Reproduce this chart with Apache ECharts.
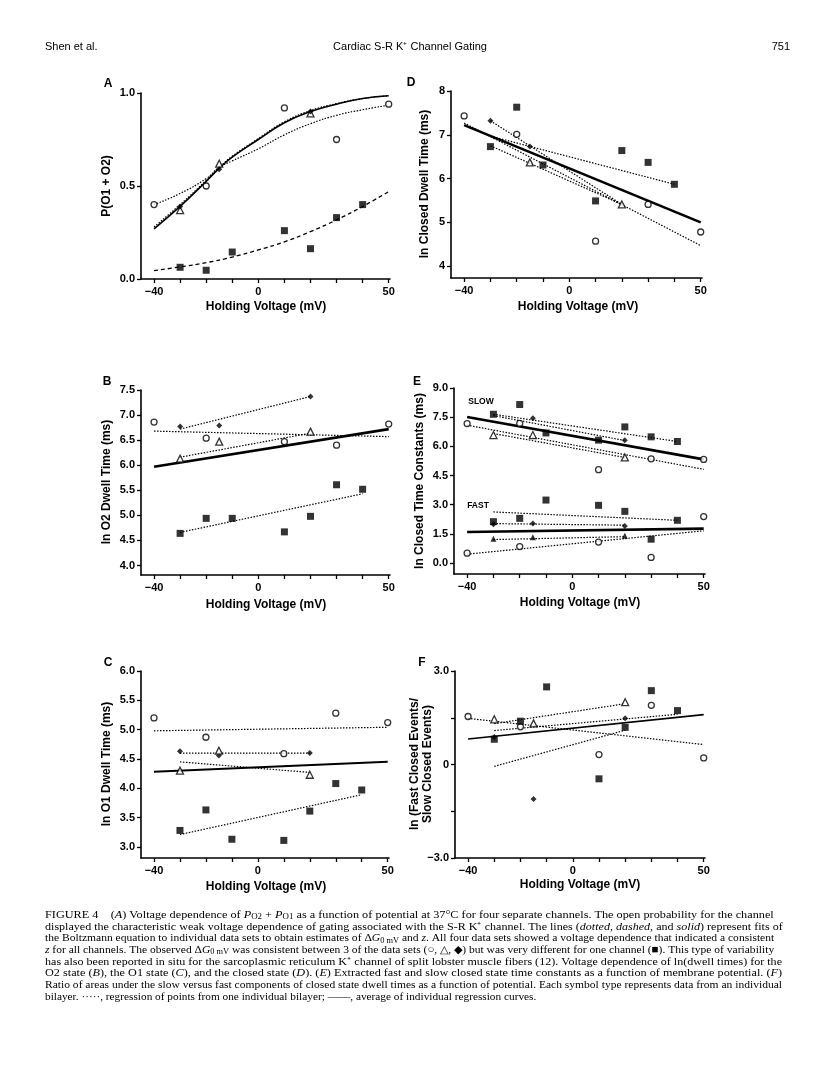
<!DOCTYPE html>
<html><head><meta charset="utf-8">
<script src="https://cdn.jsdelivr.net/npm/echarts@6/dist/echarts.min.js"></script>
<style>html,body{margin:0;padding:0;background:#fff}#c{width:816px;height:1065px}</style>
</head><body><div id="c"></div>
<script>
// ---------- shared axis ticks ----------
const xTickVals = [-40,-30,-20,-10,0,10,20,30,40,50];
const xLabelVals = [-40,0,50];

// ---------- Panel A : P(O1 + O2) ----------
const aCircle   = [[-40,0.40],[-20,0.50],[10,0.92],[30,0.75],[50,0.94]];
const aTriangle = [[-30,0.37],[-15,0.62],[20,0.89]];
const aDiamond  = [[-30,0.39],[-15,0.59],[20,0.90]];
const aSquare   = [[-30,0.063],[-20,0.047],[-10,0.145],[10,0.26],[20,0.163],[30,0.33],[40,0.40]];
const aFitSolid = [[-40,0.27],[-30,0.39],[-20,0.525],[-15,0.595],[-10,0.655],[0,0.75],[10,0.84],[20,0.90],[30,0.94],[40,0.97],[50,0.985]];
const aFitDot2  = [[-40,0.28],[-30,0.40],[-20,0.53],[-15,0.60],[-10,0.66],[0,0.755],[10,0.845],[20,0.905],[30,0.943],[40,0.97],[50,0.985]];
const aFitCircle= [[-40,0.40],[-30,0.46],[-20,0.54],[-15,0.60],[-10,0.635],[0,0.70],[10,0.775],[20,0.835],[30,0.88],[40,0.91],[50,0.935]];
const aFitSquare= [[-40,0.045],[-30,0.065],[-20,0.088],[-10,0.118],[0,0.156],[10,0.20],[20,0.255],[30,0.318],[40,0.39],[50,0.47]];

// ---------- Panel D : ln Closed Dwell Time ----------
const dCircle   = [[-40,7.43],[-20,7.01],[10,4.57],[30,5.41],[50,4.78]];
const dDiamond  = [[-30,7.32],[-15,6.73]];
const dTriangle = [[-15,6.37],[20,5.41]];
const dSquare   = [[-30,6.73],[-20,7.63],[-10,6.31],[10,5.49],[20,6.64],[30,6.37],[40,5.87]];
const dLineCircle  = [[-40,7.27],[50,4.47]];
const dLineDiamond = [[-30,7.32],[20,5.41]];
const dLineTri     = [[-30,6.75],[20,5.41]];
const dLineSquare  = [[-30,6.97],[40,5.87]];
const dSolid       = [[-40,7.22],[50,5.0]];

// ---------- Panel B : ln O2 Dwell Time ----------
const bCircle   = [[-40,6.86],[-20,6.54],[10,6.47],[30,6.40],[50,6.82]];
const bDiamond  = [[-30,6.77],[-15,6.79],[20,7.37]];
const bTriangle = [[-30,6.13],[-15,6.47],[20,6.67]];
const bSquare   = [[-30,4.64],[-20,4.94],[-10,4.94],[10,4.67],[20,4.98],[30,5.61],[40,5.52]];
const bLineDiamond = [[-30,6.72],[20,7.37]];
const bLineCircle  = [[-40,6.68],[50,6.57]];
const bLineTri     = [[-30,6.16],[20,6.64]];
const bLineSquare  = [[-30,4.66],[40,5.43]];
const bSolid       = [[-40,5.97],[50,6.72]];

// ---------- Panel E : ln Closed Time Constants ----------
const eSlowCircle   = [[-40,7.17],[-20,7.18],[10,4.80],[30,5.36],[50,5.33]];
const eSlowSquare   = [[-30,7.65],[-20,8.15],[-10,6.69],[10,6.32],[20,7.0],[30,6.49],[40,6.25]];
const eSlowDiamond  = [[-15,7.45],[20,6.32]];
const eSlowTriangle = [[-30,6.58],[-15,6.58],[20,5.43]];
const eSlowLineSq   = [[-30,7.65],[40,6.25]];
const eSlowLineDia  = [[-30,7.58],[20,6.30]];
const eSlowLineTri  = [[-30,6.66],[20,5.43]];
const eSlowLineCir  = [[-40,7.09],[50,4.82]];
const eSlowSolid    = [[-40,7.51],[50,5.33]];
const eFastSquare   = [[-30,2.13],[-20,2.3],[-10,3.24],[10,2.97],[20,2.66],[30,1.23],[40,2.2]];
const eFastDiamond  = [[-30,2.0],[-15,2.03],[20,1.91]];
const eFastTriangle = [[-30,1.25],[-15,1.33],[20,1.40]];
const eFastCircle   = [[-40,0.51],[-20,0.85],[10,1.08],[30,0.29],[50,2.39]];
const eFastLineSq   = [[-30,2.63],[40,2.2]];
const eFastLineDia  = [[-30,2.03],[20,1.95]];
const eFastLineTri  = [[-30,1.21],[20,1.36]];
const eFastLineCir  = [[-40,0.46],[50,1.66]];
const eFastSolid    = [[-40,1.6],[50,1.77]];

// ---------- Panel C : ln O1 Dwell Time ----------
const cCircle   = [[-40,5.20],[-20,4.87],[10,4.59],[30,5.28],[50,5.12]];
const cDiamond  = [[-30,4.63],[-15,4.56],[20,4.60]];
const cTriangle = [[-30,4.30],[-15,4.64],[20,4.23]];
const cSquare   = [[-30,3.28],[-20,3.63],[-10,3.13],[10,3.11],[20,3.61],[30,4.08],[40,3.97]];
const cLineCircle  = [[-40,4.98],[50,5.04]];
const cLineDiamond = [[-30,4.60],[20,4.60]];
const cLineTri     = [[-30,4.45],[20,4.27]];
const cLineSquare  = [[-30,3.21],[40,3.89]];
const cSolid       = [[-40,4.28],[50,4.45]];

// ---------- Panel F : ln (Fast/Slow Closed Events) ----------
const fCircle   = [[-40,1.54],[-20,1.21],[10,0.32],[30,1.90],[50,0.21]];
const fSquare   = [[-30,0.81],[-20,1.39],[-10,2.49],[10,-0.46],[20,1.19],[30,2.37],[40,1.73]];
const fDiamond  = [[-30,0.88],[-15,-1.11],[20,1.48]];
const fTriangle = [[-30,1.45],[-15,1.32],[20,2.0]];
const fLineTri     = [[-30,1.31],[20,1.95]];
const fLineDiamond = [[-30,-0.06],[20,1.10]];
const fLineSquare  = [[-30,1.09],[40,1.61]];
const fLineCircle  = [[-40,1.48],[50,0.64]];
const fSolid       = [[-40,0.82],[50,1.60]];

// ---------- tick values per panel ----------
const aYTicks = [0,0.5,1];
const dYTicks = [4,5,6,7,8];
const bYTicks = [4,4.5,5,5.5,6,6.5,7,7.5];
const eYTicks = [0,1.5,3,4.5,6,7.5,9];
const cYTicks = [3,3.5,4,4.5,5,5.5,6];
const fYTicks = [-3,-1.5,0,1.5,3];
const fYLabels = [-3,0,3];

// ---------- styles ----------
const SANS = 'Liberation Sans';
const SERIF = 'Liberation Serif';
const minus = v => (v < 0 ? '\u2212' + String(-v) : String(v));
const sym = {
  circle:   {symbol:'circle',   symbolSize:6, itemStyle:{color:'#fff', borderColor:'#000', borderWidth:1.3}},
  triangle: {symbol:'triangle', symbolSize:7, itemStyle:{color:'#fff', borderColor:'#000', borderWidth:1.3}},
  triFill:  {symbol:'triangle', symbolSize:6, itemStyle:{color:'#000'}},
  square:   {symbol:'rect',     symbolSize:7, itemStyle:{color:'#000'}},
  diamond:  {symbol:'diamond',  symbolSize:6, itemStyle:{color:'#000'}}
};
const ln = {
  dot:   {color:'#000', width:1.2, type:[1.5,1.5]},
  dash:  {color:'#000', width:1.3, type:[4,3]},
  solid: {color:'#000', width:1.6, type:'solid'},
  thick: {color:'#000', width:2.6, type:'solid'},
  mid:   {color:'#000', width:2.0, type:'solid'}
};
const fFmt = v => (v === 0 ? '0' : (v < 0 ? '\u2212' : '') + Math.abs(v).toFixed(1));

const panels = [
  {grid:{left:141, top:93, width:249, height:186}, yMin:0, yMax:1, yTicks:aYTicks, yLabels:aYTicks, fmt:v=>v.toFixed(1),
   pts:[[aCircle,'circle'],[aTriangle,'triangle'],[aDiamond,'diamond'],[aSquare,'square']],
   lines:[[aFitCircle,'dot',true],[aFitSquare,'dash',true],[aFitSolid,'solid',true],[aFitDot2,'dot',true]]},
  {grid:{left:451, top:91, width:251, height:187}, yMin:3.73, yMax:8, yTicks:dYTicks, yLabels:dYTicks, fmt:v=>String(v),
   pts:[[dCircle,'circle'],[dDiamond,'diamond'],[dTriangle,'triangle'],[dSquare,'square']],
   lines:[[dLineCircle,'dot'],[dLineDiamond,'dot'],[dLineTri,'dot'],[dLineSquare,'dot'],[dSolid,'thick']]},
  {grid:{left:141, top:390, width:249, height:185}, yMin:3.81, yMax:7.5, yTicks:bYTicks, yLabels:bYTicks, fmt:v=>v.toFixed(1),
   pts:[[bCircle,'circle'],[bDiamond,'diamond'],[bTriangle,'triangle'],[bSquare,'square']],
   lines:[[bLineDiamond,'dot'],[bLineCircle,'dot'],[bLineTri,'dot'],[bLineSquare,'dot'],[bSolid,'thick']]},
  {grid:{left:454, top:388, width:251, height:186}, yMin:-0.56, yMax:9, yTicks:eYTicks, yLabels:eYTicks, fmt:v=>v.toFixed(1),
   pts:[[eSlowCircle,'circle'],[eSlowSquare,'square'],[eSlowDiamond,'diamond'],[eSlowTriangle,'triangle'],
        [eFastSquare,'square'],[eFastDiamond,'diamond'],[eFastTriangle,'triFill'],[eFastCircle,'circle']],
   lines:[[eSlowLineSq,'dot'],[eSlowLineDia,'dot'],[eSlowLineTri,'dot'],[eSlowLineCir,'dot'],[eSlowSolid,'thick'],
          [eFastLineSq,'dot'],[eFastLineDia,'dot'],[eFastLineTri,'dot'],[eFastLineCir,'dot'],[eFastSolid,'thick']]},
  {grid:{left:141, top:671, width:248, height:187}, yMin:2.81, yMax:6, yTicks:cYTicks, yLabels:cYTicks, fmt:v=>v.toFixed(1),
   pts:[[cCircle,'circle'],[cDiamond,'diamond'],[cTriangle,'triangle'],[cSquare,'square']],
   lines:[[cLineCircle,'dot'],[cLineDiamond,'dot'],[cLineTri,'dot'],[cLineSquare,'dot'],[cSolid,'mid']]},
  {grid:{left:455, top:671, width:250, height:187}, yMin:-3, yMax:3, yTicks:fYTicks, yLabels:fYLabels, fmt:fFmt,
   pts:[[fCircle,'circle'],[fSquare,'square'],[fDiamond,'diamond'],[fTriangle,'triangle']],
   lines:[[fLineTri,'dot'],[fLineDiamond,'dot'],[fLineSquare,'dot'],[fLineCircle,'dot'],[fSolid,'solid']]}
];

const grids=[], xAxes=[], yAxes=[], series=[];
const axisText = {fontFamily:SANS, fontWeight:'bold', fontSize:11, color:'#000'};
panels.forEach((p,i)=>{
  grids.push(Object.assign({containLabel:false, outerBoundsMode:'none'}, p.grid));
  xAxes.push({type:'value', gridIndex:i, min:-45, max:50.5,
    axisLine:{onZero:false, lineStyle:{color:'#000', width:1.6}},
    axisTick:{customValues:xTickVals, length:4, inside:false, lineStyle:{color:'#000', width:1.3}},
    axisLabel:Object.assign({customValues:xLabelVals, margin:7, formatter:v=>minus(v)}, axisText),
    splitLine:{show:false}});
  yAxes.push({type:'value', gridIndex:i, min:p.yMin, max:p.yMax,
    axisLine:{show:true, onZero:false, lineStyle:{color:'#000', width:1.6}},
    axisTick:{show:true, customValues:p.yTicks, length:4, lineStyle:{color:'#000', width:1.3}},
    axisLabel:Object.assign({customValues:p.yLabels, margin:6, formatter:p.fmt}, axisText),
    splitLine:{show:false}});
  p.lines.forEach(([d,st,smooth])=>{
    series.push({type:'line', xAxisIndex:i, yAxisIndex:i, data:d, showSymbol:false, symbol:'none',
      smooth:!!smooth, lineStyle:ln[st], silent:true, animation:false, z:2});
  });
  p.pts.forEach(([d,s])=>{
    series.push(Object.assign({type:'scatter', xAxisIndex:i, yAxisIndex:i, data:d, animation:false, z:3}, JSON.parse(JSON.stringify(sym[s]))));
  });
});

// ---------- text ----------
const titleFont = {fontFamily:SANS, fontWeight:'bold', fontSize:12, fill:'#000'};
function txt(x,y,text,extra,rot){
  return {type:'text', x:x, y:y, rotation:rot||0, silent:true,
    style:Object.assign({text:text, align:'center', verticalAlign:'middle'}, titleFont, extra||{})};
}
const graphics = [
  txt(45,47,'Shen et al.',{fontWeight:'normal', fontSize:11, align:'left'}),
  txt(410,47,'Cardiac S-R K\u207A Channel Gating',{fontWeight:'normal', fontSize:11}),
  txt(790,47,'751',{fontWeight:'normal', fontSize:11, align:'right'}),
  txt(108,84,'A'), txt(411,83,'D'), txt(107,382,'B'), txt(417,382,'E'), txt(108,663,'C'), txt(422,663,'F'),
  txt(107,186,'P(O1 + O2)',null,Math.PI/2),
  txt(425,184,'ln Closed Dwell Time (ms)',null,Math.PI/2),
  txt(107,482,'ln O2 Dwell Time (ms)',null,Math.PI/2),
  txt(420,481,'ln Closed Time Constants (ms)',null,Math.PI/2),
  txt(107,764,'ln O1 Dwell Time (ms)',null,Math.PI/2),
  txt(421,764,'ln (Fast Closed Events/\nSlow Closed Events)',{lineHeight:13},Math.PI/2),
  txt(266,307,'Holding Voltage (mV)'), txt(578,307,'Holding Voltage (mV)'),
  txt(266,605,'Holding Voltage (mV)'), txt(580,603,'Holding Voltage (mV)'),
  txt(266,887,'Holding Voltage (mV)'), txt(580,885,'Holding Voltage (mV)'),
  txt(481,402,'SLOW',{fontSize:8.5}), txt(478,506,'FAST',{fontSize:8.5})
];

const CAP_SIZE = 11.3;
const capRich = {
  it:{fontStyle:'italic', fontFamily:SERIF, fontSize:CAP_SIZE, lineHeight:12},
  sub:{fontFamily:SERIF, fontSize:8.2, verticalAlign:'bottom', lineHeight:12},
  subi:{fontFamily:SERIF, fontSize:8.2, fontStyle:'italic', verticalAlign:'bottom', lineHeight:12}
};
const captionLines = [
  'FIGURE 4    ({it|A}) Voltage dependence of {it|P}{sub|O2} + {it|P}{sub|O1} as a function of potential at 37\u00B0C for four separate channels. The open probability for the channel',
  'displayed the characteristic weak voltage dependence of gating associated with the S-R K\u207A channel. The lines ({it|dotted, dashed,} and {it|solid}) represent fits of',
  'the Boltzmann equation to individual data sets to obtain estimates of \u0394{it|G}{sub|0 mV} and {it|z}. All four data sets showed a voltage dependence that indicated a consistent',
  '{it|z} for all channels. The observed \u0394{it|G}{sub|0 mV} was consistent between 3 of the data sets (\u25CB, \u25B3, \u25C6) but was very different for one channel (\u25A0). This type of variability',
  'has also been reported in situ for the sarcoplasmic reticulum K\u207A channel of split lobster muscle fibers (12). Voltage dependence of ln(dwell times) for the',
  'O2 state ({it|B}), the O1 state ({it|C}), and the closed state ({it|D}). ({it|E}) Extracted fast and slow closed state time constants as a function of membrane potential. ({it|F})',
  'Ratio of areas under the slow versus fast components of closed state dwell times as a function of potential. Each symbol type represents data from an individual',
  'bilayer. \u00B7\u00B7\u00B7\u00B7\u00B7, regression of points from one individual bilayer; \u2014\u2014, average of individual regression curves.'
];
// stretch each justified caption line to the column width (text layout only)
const measureCtx = document.createElement('canvas').getContext('2d');
measureCtx.font = CAP_SIZE + 'px "' + SERIF + '"';
const CAP_LEFT = 45, CAP_WIDTH = 737;
captionLines.forEach((t,k)=>{
  const plain = t.replace(/\{(\w+)\|([^}]*)\}/g, '$2');
  const w = measureCtx.measureText(plain).width;
  const sx = (k < captionLines.length - 1) ? CAP_WIDTH / w : 1;
  graphics.push({type:'text', x:CAP_LEFT, y:915 + k*11.7, scaleX:sx, silent:true,
    style:{text:t, rich:capRich, fontFamily:SERIF, fontSize:CAP_SIZE, lineHeight:12, fill:'#000', align:'left', verticalAlign:'middle'}});
});

const chart = echarts.init(document.getElementById('c'), null, {renderer:'canvas'});
chart.setOption({backgroundColor:'#fff', animation:false, grid:grids, xAxis:xAxes, yAxis:yAxes, series:series, graphic:graphics});
</script></body></html>
